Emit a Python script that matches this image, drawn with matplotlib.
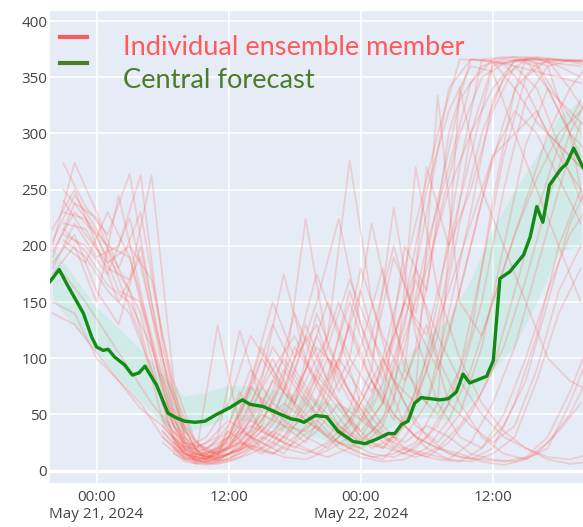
import numpy as np
import matplotlib
matplotlib.use("Agg")
import matplotlib.pyplot as plt
from matplotlib.lines import Line2D

plt.rcParams['font.family'] = ['Open Sans', 'DejaVu Sans']

# hours relative to 2024-05-21 00:00
hours_a = [-4, -2, 0, 2, 4, 6, 8, 10, 12, 14, 16, 18, 20, 22, 24, 26, 28, 30, 32, 34, 36, 38, 40, 42, 44]
hours_b = [-3, -1, 1, 3, 5, 7, 9, 11, 13, 15, 17, 19, 21, 23, 25, 27, 29, 31, 33, 35, 37, 39, 41, 43, 45]

# None = member not yet started
members_a = [
    [190, 238, 225, 170, 120, 45, 12, 8, 15, 30, 60, 45, 85, 60, 30, 20, 40, 90, 180, 300, 362, 365, 366, 360, 350],
    [None, None, None, None, None, 30, 10, 15, 25, 40, 30, 70, 110, 90, 50, 25, 15, 30, 60, 120, 240, 340, 362, 365, 364],
    [200, 274, 230, 180, 140, 60, 20, 12, 20, 55, 90, 120, 75, 40, 25, 45, 110, 200, 270, 345, 366, 368, 362, 330, 300],
    [None, None, None, None, None, 40, 15, 6, 10, 20, 35, 25, 15, 30, 60, 100, 60, 30, 15, 10, 20, 60, 120, 200, 250],
    [175, 200, 150, 245, 160, 70, 25, 20, 30, 75, 50, 90, 150, 224, 130, 80, 150, 250, 320, 360, 355, 300, 250, 200, 150],
    [None, None, None, None, None, 50, 18, 25, 45, 30, 20, 40, 60, 100, 160, 90, 40, 20, 10, 8, 15, 30, 80, 140, 180],
    [215, 250, 200, 150, 190, 90, 40, 15, 20, 35, 80, 60, 40, 25, 15, 10, 30, 60, 140, 230, 330, 366, 368, 366, 365],
    [None, None, None, None, None, 25, 8, 5, 8, 15, 25, 50, 90, 60, 35, 60, 120, 180, 250, 300, 340, 365, 360, 320, 280],
    [180, 220, 190, 200, 263, 110, 30, 10, 25, 60, 110, 80, 50, 100, 70, 40, 20, 12, 25, 50, 90, 160, 230, 290, 330],
    [150, 140, 100, 80, 60, 30, 12, 20, 35, 20, 15, 30, 45, 25, 20, 40, 90, 270, 200, 250, 320, 360, 340, 290, 240],
    [195, 230, 210, 160, 150, 80, 20, 30, 60, 120, 90, 60, 120, 80, 45, 30, 20, 15, 10, 25, 60, 110, 180, 250, 310],
    [None, None, None, None, None, 35, 15, 10, 20, 45, 30, 20, 35, 60, 45, 90, 150, 120, 200, 280, 360, 365, 367, 362, 360],
    [185, 210, 160, 130, 200, 100, 30, 8, 10, 25, 45, 100, 175, 120, 60, 35, 25, 40, 30, 15, 10, 8, 15, 35, 60],
    [None, None, None, None, None, 60, 22, 15, 30, 70, 130, 90, 60, 40, 25, 20, 45, 100, 160, 220, 280, 300, 320, 280, 250],
    [None, None, None, None, None, 85, 25, 12, 15, 22, 15, 25, 40, 20, 12, 8, 10, 20, 45, 90, 150, 210, 260, 300, 320],
    [205, 245, 215, 180, 230, 120, 35, 18, 40, 90, 60, 110, 80, 55, 30, 60, 130, 230, 340, 366, 365, 360, 355, 350, 345],
    [None, None, None, None, None, 45, 15, 10, 30, 80, 150, 100, 130, 70, 110, 180, 90, 60, 120, 200, 280, 320, 300, 260, 220],
    [None, None, None, None, None, 35, 10, 8, 15, 35, 70, 140, 90, 150, 100, 60, 200, 160, 300, 366, 364, 340, 310, 290, 270],
    [140, 130, 105, 80, 55, 40, 18, 12, 22, 50, 100, 60, 140, 90, 180, 120, 80, 130, 60, 40, 25, 40, 90, 160, 200],
]

members_b = [
    [250, 225, 190, 160, 90, 30, 10, 12, 25, 50, 40, 80, 120, 276, 150, 80, 40, 25, 50, 110, 200, 290, 340, 320, 300],
    [230, 224, 200, 190, 110, 40, 15, 10, 20, 35, 60, 45, 30, 20, 12, 15, 25, 60, 341, 250, 200, 150, 100, 80, 70],
    [273, 235, 210, 264, 150, 50, 20, 30, 125, 60, 40, 25, 60, 100, 220, 130, 70, 50, 90, 180, 280, 350, 366, 365, 363],
    [None, None, None, None, None, 25, 8, 6, 12, 25, 45, 30, 20, 40, 80, 50, 30, 20, 15, 8, 5, 10, 25, 50, 90],
    [None, None, None, None, None, 20, 10, 18, 40, 80, 175, 100, 60, 35, 20, 30, 70, 334, 150, 120, 180, 240, 300, 340, 366],
    [200, 185, 230, 190, 120, 45, 15, 12, 18, 30, 20, 15, 25, 45, 90, 234, 120, 60, 30, 20, 40, 80, 150, 220, 260],
    [None, None, None, None, None, 15, 6, 8, 15, 28, 55, 120, 80, 45, 25, 18, 12, 20, 40, 70, 110, 170, 240, 300, 340],
    [210, 200, 175, 225, 140, 60, 18, 10, 20, 45, 80, 224, 110, 70, 40, 25, 60, 150, 270, 366, 368, 368, 366, 365, 364],
    [None, None, None, None, None, 35, 12, 129, 40, 20, 12, 10, 18, 30, 55, 100, 170, 120, 80, 50, 30, 20, 12, 10, 15],
    [220, 215, 180, 170, 263, 80, 25, 15, 30, 60, 100, 70, 45, 30, 60, 140, 220, 300, 366, 365, 362, 340, 300, 280, 260],
    [None, None, None, None, None, 30, 12, 20, 35, 25, 15, 40, 85, 150, 90, 50, 30, 20, 12, 10, 8, 12, 30, 70, 120],
    [240, 210, 185, 200, 170, 70, 22, 14, 25, 15, 30, 60, 40, 25, 15, 12, 20, 40, 80, 150, 250, 330, 360, 365, 366],
    [None, None, None, None, None, 22, 8, 12, 70, 35, 25, 18, 12, 20, 35, 60, 270, 160, 100, 60, 35, 20, 10, 6, 8],
    [175, 150, 120, 90, 60, 35, 14, 20, 50, 100, 70, 45, 30, 55, 120, 200, 130, 90, 160, 240, 310, 366, 365, 340, 310],
    [None, None, None, None, None, 18, 7, 10, 18, 40, 25, 55, 100, 70, 40, 22, 15, 10, 8, 20, 50, 100, 160, 210, 240],
    [None, None, None, None, None, 55, 20, 15, 25, 20, 40, 35, 65, 130, 80, 45, 110, 220, 300, 350, 362, 366, 360, 300, 200],
    [205, 190, 160, 140, 90, 28, 10, 15, 45, 110, 70, 130, 80, 160, 100, 190, 140, 240, 330, 360, 366, 365, 340, 300, 280],
    [None, None, None, None, None, 25, 9, 14, 30, 65, 45, 90, 150, 100, 70, 120, 180, 100, 60, 30, 15, 10, 20, 60, 110],
    [215, 195, 165, 150, 110, 40, 12, 9, 20, 40, 90, 60, 110, 170, 120, 80, 60, 120, 220, 300, 350, 366, 366, 364, 360],
]

# spread around the central forecast (on hours_a)
band_low = [152, 128, 105, 82, 62, 42, 33, 40, 47, 44, 38, 32, 30, 22, 18, 35, 45, 48, 45, 60, 90, 110, 150, 195, 200]
band_high = [198, 172, 145, 127, 108, 85, 66, 70, 76, 75, 72, 68, 64, 58, 55, 80, 100, 120, 135, 170, 215, 250, 280, 315, 330]

central_hours = [-4.25, -3.4, -2.7, -1.2, -0.45, 0.0, 0.6, 1.05, 1.65, 2.55, 3.25, 3.85, 4.4, 5.45, 6.5,
                 7.25, 8.0, 8.95, 9.85, 10.9, 12.1, 13.25, 13.95, 15.15, 16.5, 17.7, 18.3, 18.85, 19.85,
                 20.9, 21.95, 23.3, 24.4, 25.45, 26.5, 27.1, 27.7, 28.3, 28.9, 29.5, 31.2, 31.95, 32.7,
                 33.3, 33.9, 35.45, 36.05, 36.65, 37.55, 38.8, 39.4, 40.0, 40.55, 41.15, 41.8, 42.25,
                 42.7, 43.35, 44.2]
central = [168, 179, 166, 140, 119, 110, 107, 108, 101, 94, 85, 87, 93, 76, 51,
           47, 44, 43, 44, 50, 56, 63, 59, 57, 51, 46, 45, 43, 49,
           48, 35, 26, 24, 28, 33, 33, 41, 44, 60, 65, 63, 64, 70,
           86, 78, 84, 98, 171, 177, 192, 208, 235, 221, 254, 263, 269,
           273, 287, 270]

tick_hours = [0, 12, 24, 36]
tick_labels = ['00:00\nMay 21, 2024', '12:00', '00:00\nMay 22, 2024', '12:00']

base = np.datetime64('2024-05-21T00:00')


def to_time(h):
    return base + (np.array(h, dtype=float) * 60).round().astype(int).astype('timedelta64[m]')


fig = plt.figure(figsize=(5.83, 5.27), dpi=100)
ax = fig.add_axes([50 / 583, 44 / 527, 533 / 583, 472 / 527])
ax.set_facecolor('#e5ecf6')

for m in members_a:
    ax.plot(to_time(hours_a), np.array(m, dtype=float), color='#ff4a3d', alpha=0.19, lw=1.3)
for m in members_b:
    ax.plot(to_time(hours_b), np.array(m, dtype=float), color='#ff4a3d', alpha=0.19, lw=1.3)

ax.fill_between(to_time(hours_a), band_low, band_high, color='#3ddc84', alpha=0.12, lw=0)
ax.plot(to_time(central_hours), central, color='#138a13', lw=2.4)

ax.set_xlim(to_time(-4.24), to_time(44.2))
ax.set_ylim(-11, 409)
ax.set_yticks(range(0, 401, 50))
ax.set_xticks(to_time(tick_hours))
ax.set_xticklabels(tick_labels)
ax.grid(True, color='white', lw=1.2)
ax.axhline(0, color='white', lw=2.5, zorder=0.5)
ax.set_axisbelow(True)
for s in ax.spines.values():
    s.set_visible(False)
ax.tick_params(length=0, labelsize=11, colors='#444444')
ax.tick_params(axis='y', pad=2)
ax.tick_params(axis='x', pad=5)

# legend drawn by hand
fig.add_artist(Line2D([60 / 583, 87 / 583], [1 - 37 / 527] * 2, color='#ff5a5a', lw=3))
fig.add_artist(Line2D([60 / 583, 87 / 583], [1 - 63 / 527] * 2, color='#4a7c2a', lw=3))
fig.text(123 / 583, 1 - 55 / 527, 'Individual ensemble member', color='#ff5a5a',
         fontsize=19.6, family='Lato', va='baseline')
fig.text(123 / 583, 1 - 88 / 527, 'Central forecast', color='#4a7c2a',
         fontsize=19.6, family='Lato', va='baseline')

fig.savefig('out.png', dpi=100)
